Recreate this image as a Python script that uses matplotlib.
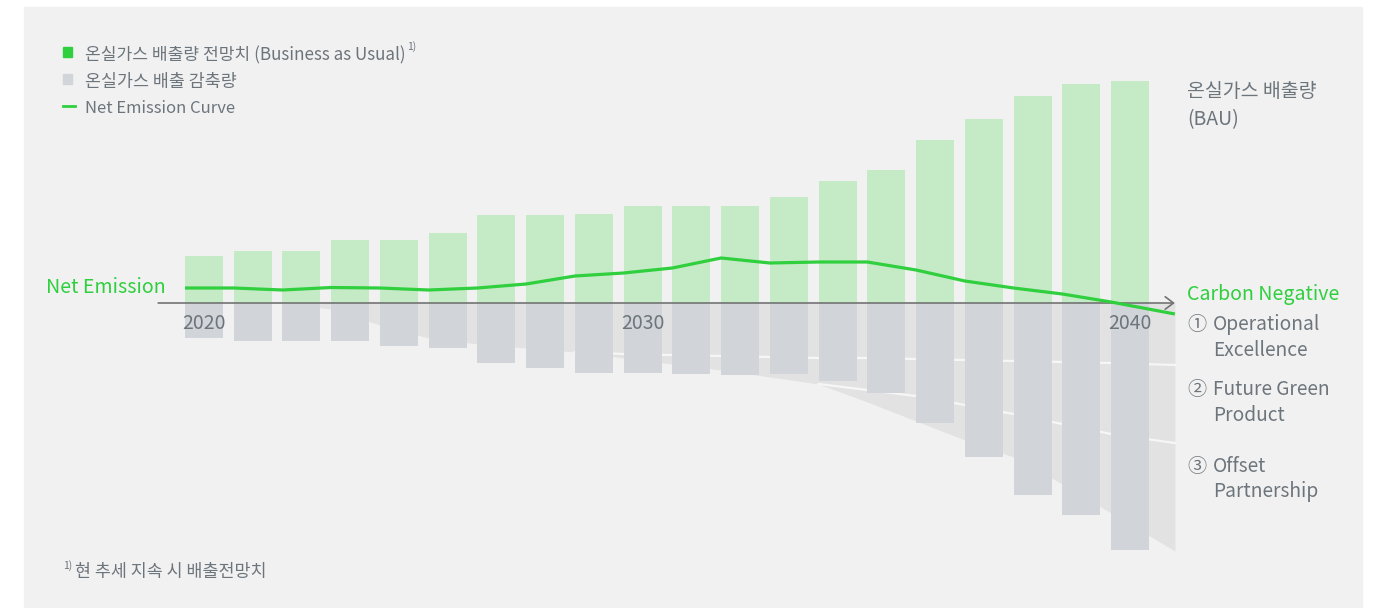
import numpy as np
import matplotlib
matplotlib.use("Agg")
import matplotlib.pyplot as plt
from matplotlib.patches import Rectangle
from matplotlib.lines import Line2D

plt.rcParams["font.family"] = ["Noto Sans CJK KR", "DejaVu Sans"]

# ---- data (arbitrary emission units) ----
years = list(range(2020, 2040))
tick_idx = [0, 9, 19]
tick_labels = ["2020", "2030", "2040"]

bau = [47, 52, 52, 63, 63, 70, 88, 88, 89, 97, 97, 97, 106, 122, 133, 163, 184, 207, 219, 222]
reduction = [35, 38, 38, 38, 43, 45, 60, 65, 70, 70, 71, 72, 71, 78, 90, 120, 154, 192, 212, 247]

# sampled at each bar's left edge plus the end of the axis
net_emission = [15, 15, 13, 15.5, 15, 13, 15, 19, 27, 30, 35, 45, 40, 41, 41, 33, 22, 15, 9, 1, -11]
band_operational = [0, 0, 0, 6, 22, 35, 41, 45, 49, 51, 52, 53, 54, 55, 55, 56, 57, 58, 59, 60, 62]
band_green_product = [0, 0, 0, 0, 0, 0, 0, 0, 0, 4, 9, 14, 20, 26, 32, 37, 45, 53, 62, 71, 78]
band_offset = [0, 0, 0, 0, 0, 0, 0, 0, 0, 0, 0, 0, 0, 0, 12, 25, 35, 43, 60, 79, 108]

legend_labels = ["온실가스 배출량 전망치 (Business as Usual)", "온실가스 배출 감축량", "Net Emission Curve"]
right_marks = ["①", "②", "③"]
right_items = [("Operational", "Excellence"), ("Future Green", "Product"), ("Offset", "Partnership")]

# ---- style ----
GREEN = "#2fcf3e"
BAR_GREEN = "#c5eac6"
BAR_GRAY = "#d1d5d9"
BAND = "#e2e2e2"
SEP = "#f6f6f6"
TEXT = "#6d757c"
PANEL = "#f1f1f1"

W, H = 1385, 608
STEP, X0, BASE = 48.74, 204, 303   # px per bar, first bar centre, zero line (px from top)


def at(x, y):
    return x / W, 1 - y / H


fig = plt.figure(figsize=(W / 100, H / 100), dpi=100)
fig.patch.set_facecolor("white")
fig.patches.append(Rectangle(at(24, H), (1362 - 24) / W, (H - 7) / H,
                             transform=fig.transFigure, color=PANEL, zorder=-5))

ax = fig.add_axes([0, 0, 1, 1])
ax.axis("off")
ax.patch.set_alpha(0)
ax.set_xlim(-X0 / STEP, (W - X0) / STEP)
ax.set_ylim(BASE - H, BASE)

n = len(years)
x = np.arange(n)
bar_w = 0.78
x_end = n - 0.08
edge_x = np.append(x - bar_w / 2, x_end)

# stacked reduction bands behind the bars
b1 = -np.array(band_operational, float)
b2 = b1 - np.array(band_green_product, float)
b3 = b2 - np.array(band_offset, float)
ax.fill_between(edge_x, 0, b3, color=BAND, lw=0, zorder=1)
gp = np.array(band_green_product) > 0
m1 = gp | np.append(gp[1:], False)
ax.plot(edge_x[m1], b1[m1], color=SEP, lw=1.6, zorder=1.5)
of = np.array(band_offset) > 0
m2 = of | np.append(of[1:], False)
ax.plot(edge_x[m2], b2[m2], color=SEP, lw=1.6, zorder=1.5)

ax.bar(x, bau, width=bar_w, color=BAR_GREEN, zorder=2)
ax.bar(x, -np.array(reduction), width=bar_w, color=BAR_GRAY, zorder=2)

ax.annotate("", xy=(x_end, 0), xytext=(-0.5 - 0.44, 0),
            arrowprops=dict(arrowstyle="->,head_length=0.6,head_width=0.45",
                            color="#737373", lw=1.2, shrinkA=0, shrinkB=0), zorder=3)

ax.plot(edge_x, net_emission, color=GREEN, lw=2.3, zorder=4, solid_capstyle="butt")

for i, lab in zip(tick_idx, tick_labels):
    ax.text(x[i], -26, lab, ha="center", va="baseline", fontsize=14, color=TEXT, zorder=5)

# ---- annotations ----
fig.text(*at(46, 293), "Net Emission", color=GREEN, fontsize=14.1, va="baseline")
fig.text(*at(1187, 300), "Carbon Negative", color=GREEN, fontsize=14.1, va="baseline")
fig.text(*at(1187, 97), "온실가스 배출량", color=TEXT, fontsize=14, va="baseline")
fig.text(*at(1187, 125), "(BAU)", color=TEXT, fontsize=14, va="baseline")

for k, (mark, (first, second)) in enumerate(zip(right_marks, right_items)):
    y0 = [330, 395, 471.5][k]
    fig.text(*at(1187, y0), mark, color=TEXT, fontsize=13.8, va="baseline")
    fig.text(*at(1213, y0), first, color=TEXT, fontsize=13.8, va="baseline")
    fig.text(*at(1213, y0 + 26), second, color=TEXT, fontsize=13.8, va="baseline")

# legend
fig.patches.append(Rectangle(at(63, 57), 9 / W, 10 / H, transform=fig.transFigure, color=GREEN))
fig.patches.append(Rectangle(at(63, 84), 9 / W, 10 / H, transform=fig.transFigure, color=BAR_GRAY))
fig.lines.append(Line2D([63 / W, 75 / W], [1 - 105.5 / H] * 2, transform=fig.transFigure,
                        color=GREEN, lw=2))
t1 = fig.text(*at(85, 60), legend_labels[0], color=TEXT, fontsize=12.3, va="baseline")
fig.text(*at(85, 87), legend_labels[1], color=TEXT, fontsize=12.5, va="baseline")
fig.text(*at(85, 113), legend_labels[2], color=TEXT, fontsize=12, va="baseline")

renderer = fig.canvas.get_renderer()
bb = t1.get_window_extent(renderer)
fig.text(bb.x1 / W + 1 / W, 1 - 50 / H, "1)", color=TEXT, fontsize=7.5, va="baseline")

# footnote
fig.text(*at(63, 569), "1)", color=TEXT, fontsize=7.5, va="baseline")
fig.text(*at(75, 577), "현 추세 지속 시 배출전망치", color=TEXT, fontsize=12.5, va="baseline")

fig.savefig("out.png", dpi=100)
